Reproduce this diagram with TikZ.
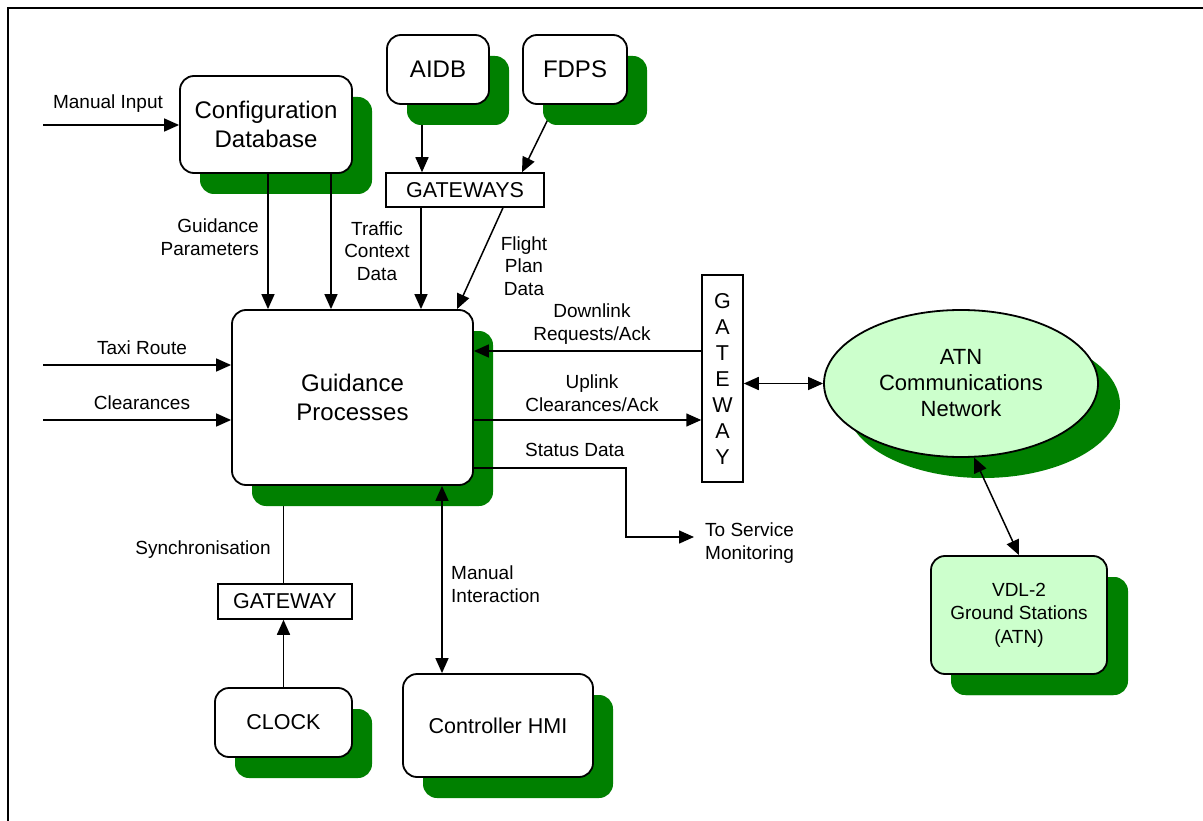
\documentclass[tikz,border=0pt]{standalone}
\usepackage{fontspec}
\setmainfont{Liberation Sans}
\usetikzlibrary{arrows.meta,shadows,shapes.geometric}
\definecolor{shgreen}{RGB}{0,128,0}
\definecolor{lgreen}{RGB}{204,255,204}
\pgfdeclarelayer{bg}
\pgfdeclarelayer{paper}
\pgfsetlayers{paper,bg,main}
\begin{document}
\begin{tikzpicture}[x=1pt,y=-1pt,
  box/.style={draw, line width=1.8pt, rounded corners=14pt, fill=white, inner sep=0pt, align=center,
    general shadow={fill=shgreen, shadow xshift=20pt, shadow yshift=-21pt}},
  gwbox/.style={draw, line width=1.5pt, fill=white, inner sep=0pt, align=center, font=\fontsize{21.5}{26}\selectfont},
  big/.style={font=\fontsize{24}{29}\selectfont},
  mid/.style={font=\fontsize{21.5}{26}\selectfont},
  arr/.style={line width=1.5pt, -{Triangle[length=15pt,width=13pt]}},
  darr/.style={line width=1.5pt, {Triangle[length=15pt,width=13pt]}-{Triangle[length=15pt,width=13pt]}},
  plain/.style={line width=1.5pt},
  lbl/.style={inner sep=0pt, font=\fontsize{19}{22.5}\selectfont, align=center},
]
\useasboundingbox (0,0) rectangle (1203,821);
\begin{pgfonlayer}{paper}
\fill[white] (0,0) rectangle (1203,821);
\end{pgfonlayer}
\draw[line width=2pt] (8,821) -- (8,8) -- (1203,8);

% nodes
\node[box, big, minimum width=172pt, minimum height=97pt] (cfg) at (266,124.5) {Configuration\\Database};
\node[box, big, minimum width=102pt, minimum height=69pt] (aidb) at (438,69.5) {AIDB};
\node[box, big, minimum width=104pt, minimum height=69pt] (fdps) at (575,69.5) {FDPS};
\node[gwbox, minimum width=158pt, minimum height=34pt] (gws) at (465,190) {GATEWAYS};
\node[box, big, minimum width=241pt, minimum height=175pt] (gp) at (352.5,397.5) {Guidance\\Processes};
\node[gwbox, minimum width=41pt, minimum height=207pt] (gwv) at (722.5,378.5) {G\\A\\T\\E\\W\\A\\Y};
\node[draw, ellipse, line width=1.8pt, fill=lgreen, inner sep=0pt, align=center,
  minimum width=274pt, minimum height=147pt,
  font=\fontsize{22}{26}\selectfont,
  general shadow={fill=shgreen, shadow xshift=22pt, shadow yshift=-21pt}] (atn) at (961,383.5) {ATN\\Communications\\Network};
\node[box, fill=lgreen, font=\fontsize{19}{23.5}\selectfont, minimum width=176pt, minimum height=118pt,
  general shadow={fill=shgreen, shadow xshift=21pt, shadow yshift=-21pt}] (vdl) at (1019,615) {VDL-2\\Ground Stations\\(ATN)};
\node[gwbox, minimum width=134pt, minimum height=35pt] (gw2) at (285,601.5) {GATEWAY};
\node[box, mid, minimum width=137pt, minimum height=69pt] (clock) at (283.5,722.5) {CLOCK};
\node[box, mid, minimum width=190pt, minimum height=103pt] (hmi) at (498,725.5) {Controller HMI};

% connectors hidden partly under shadows
\begin{pgfonlayer}{bg}
\draw[arr] ([xshift=-16pt]aidb.south) -- ([xshift=-16pt]aidb.south |- gws.north);
\draw[arr] ([xshift=-20pt]fdps.south) -- ([xshift=57pt]gws.north);
\draw[plain] (gw2.north -| clock.north) -- (clock.north |- gp.south);
\end{pgfonlayer}

% coordinates for free ends
\coordinate (mi) at (43,125);
\coordinate (tr) at (43,365);
\coordinate (cl) at (43,420);
\coordinate (ydl) at (0,351);
\coordinate (yul) at (0,420);
\coordinate (yst) at (0,468);
\coordinate (stx) at (626,0);
\coordinate (svc) at (694,537);

% connectors
\draw[arr] (mi) -- (cfg.west |- mi);
\draw[arr] ([xshift=2pt]cfg.south) -- ([xshift=2pt]cfg.south |- gp.north);
\draw[arr] ([xshift=65pt]cfg.south) -- ([xshift=65pt]cfg.south |- gp.north);
\draw[arr] ([xshift=-44pt]gws.south) -- ([xshift=-44pt]gws.south |- gp.north);
\draw[arr] ([xshift=38pt]gws.south) -- ([xshift=104.5pt]gp.north);
\draw[arr] (tr) -- (gp.west |- tr);
\draw[arr] (cl) -- (gp.west |- cl);
\draw[arr] (gwv.west |- ydl) -- (gp.east |- ydl);
\draw[arr] (gp.east |- yul) -- (gwv.west |- yul);
\draw[arr] (gp.east |- yst) -| (stx |- svc) -- (svc);
\draw[darr] (gwv.east |- atn.west) -- (atn.west);
\draw[darr] (atn.-80) -- (vdl.north);
\draw[arr] (clock.north) -- (clock.north |- gw2.south);
\draw[darr] ([xshift=-56pt]hmi.north) -- ([xshift=-56pt]hmi.north |- gp.south);

% labels
\node[lbl] (lmi) at (108,104) {Manual Input};
\node[lbl, align=right, anchor=east] (lgp) at (259,237) {Guidance\\Parameters};
\node[lbl] (ltc) at (377,251) {Traffic\\Context\\Data};
\node[lbl] (lfp) at (524,266) {Flight\\Plan\\Data};
\node[lbl] (ldl) at (592,324) {Downlink\\Requests/Ack};
\node[lbl] (lul) at (592,393) {Uplink\\Clearances/Ack};
\node[lbl, anchor=west] (lst) at (525,450) {Status Data};
\node[lbl, align=left, anchor=west] (lsv) at (705,543) {To Service\\Monitoring};
\node[lbl] (ltr) at (142,348) {Taxi Route};
\node[lbl] (lcl) at (142,403) {Clearances};
\node[lbl] (lsy) at (203,550) {Synchronisation};
\node[lbl, align=left, anchor=west] (lmn) at (451,584) {Manual\\Interaction};
\end{tikzpicture}
\end{document}
